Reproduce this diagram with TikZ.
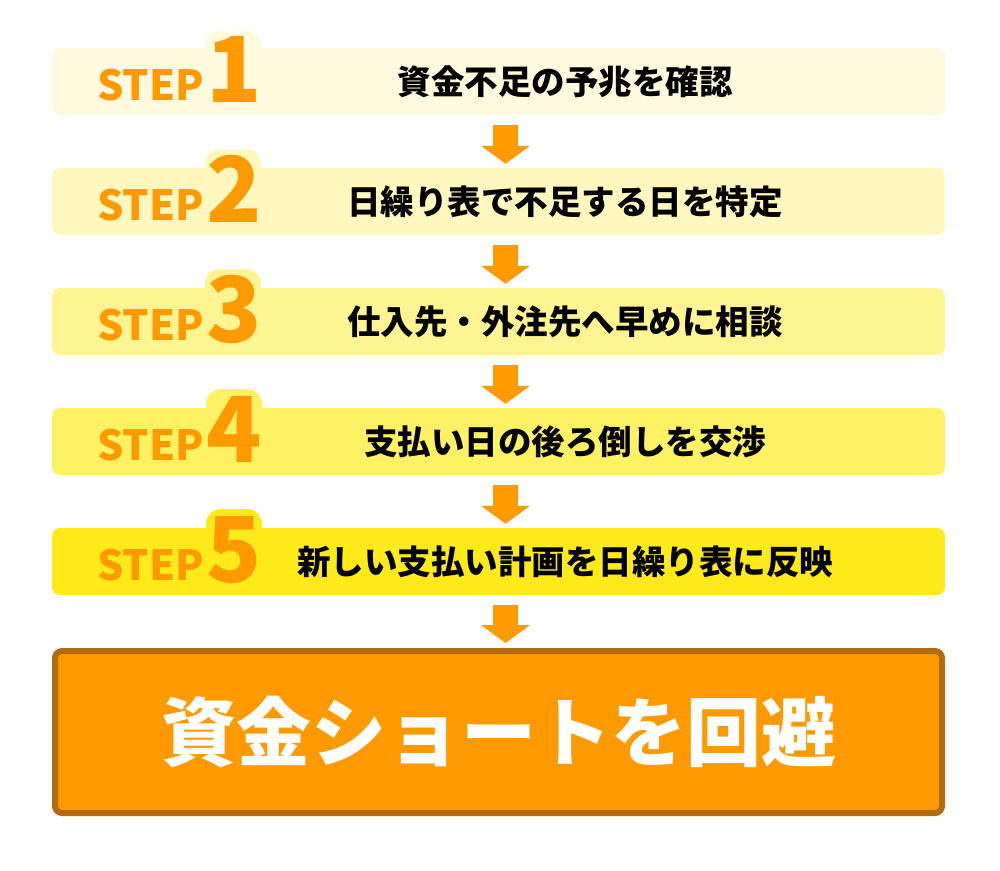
\documentclass[tikz,border=0pt]{standalone}
\usepackage{fontspec}
\setmainfont{Noto Sans CJK JP}
\usepackage{xcolor}
\usepackage{tikz}
\usetikzlibrary{arrows.meta, positioning}

\definecolor{bar1}{RGB}{255,250,222}
\definecolor{bar2}{RGB}{255,247,190}
\definecolor{bar3}{RGB}{255,244,145}
\definecolor{bar4}{RGB}{255,240,100}
\definecolor{bar5}{RGB}{255,234,25}
\definecolor{steporange}{RGB}{255,153,0}
\definecolor{rim}{RGB}{178,107,14}

\begin{document}
\begin{tikzpicture}[x=1pt, y=-1pt,
            bar/.style={rectangle, rounded corners=8pt, minimum width=893pt, minimum height=67pt, inner sep=0pt},
            halo/.style={rectangle, rounded corners=15pt, minimum width=56pt, minimum height=50pt, inner sep=0pt},
            steptext/.style={anchor=base west, inner sep=0pt, text=steporange, font=\bfseries\fontsize{41.5}{42}\selectfont},
            num/.style={anchor=base, inner sep=0pt, text=steporange, font=\bfseries\fontsize{91}{91}\selectfont},
            task/.style={inner sep=0pt, font=\bfseries\fontsize{33.5}{40}\selectfont},
            goalbox/.style={rectangle, draw=rim, line width=6pt, fill=steporange, rounded corners=7pt, minimum width=887pt, minimum height=162pt, text=white, font=\bfseries\fontsize{75}{75}\selectfont},
            flow/.style={-{Triangle[width=48pt, length=18pt]}, line width=25pt, steporange, shorten <=10pt, shorten >=4pt}]
            \useasboundingbox (0,0) rectangle (1000,870);

            \node[bar, fill=bar1] (s1) at (498.5,81.5) {};
            \node[halo, fill=bar1] (h1) at (233,56) {};
            \node[num] (n1) at (234,102) {1};
            \node[steptext] (l1) at (97,100) {STEP};
            \node[task] (t1) at (565,81.5) {資金不足の予兆を確認};

            \node[bar, fill=bar2] (s2) at (498.5,201.5) {};
            \node[halo, fill=bar2] (h2) at (233,174) {};
            \node[num] (n2) at (234,222) {2};
            \node[steptext] (l2) at (97,220) {STEP};
            \node[task] (t2) at (565,201.5) {日繰り表で不足する日を特定};

            \node[bar, fill=bar3] (s3) at (498.5,321.5) {};
            \node[halo, fill=bar3] (h3) at (233,294) {};
            \node[num] (n3) at (234,342) {3};
            \node[steptext] (l3) at (97,340) {STEP};
            \node[task] (t3) at (565,321.5) {仕入先・外注先へ早めに相談};

            \node[bar, fill=bar4] (s4) at (498.5,441.5) {};
            \node[halo, fill=bar4] (h4) at (234,414) {};
            \node[num] (n4) at (234,462) {4};
            \node[steptext] (l4) at (97,460) {STEP};
            \node[task] (t4) at (565,441.5) {支払い日の後ろ倒しを交渉};

            \node[bar, fill=bar5] (s5) at (498.5,561.5) {};
            \node[halo, fill=bar5] (h5) at (234,534) {};
            \node[num] (n5) at (234,582) {5};
            \node[steptext] (l5) at (97,580) {STEP};
            \node[task] (t5) at (565,561.5) {新しい支払い計画を日繰り表に反映};

            \node[goalbox] (goal) at (498.5,732) {資金ショートを回避};

            \draw[flow] ([xshift=7pt]s1.south) -- ([xshift=7pt]s2.north);
            \draw[flow] ([xshift=7pt]s2.south) -- ([xshift=7pt]s3.north);
            \draw[flow] ([xshift=7pt]s3.south) -- ([xshift=7pt]s4.north);
            \draw[flow] ([xshift=7pt]s4.south) -- ([xshift=7pt]s5.north);
            \draw[flow, shorten >=5pt] ([xshift=7pt]s5.south) -- ([xshift=7pt]goal.north);
        \end{tikzpicture}
\end{document}
